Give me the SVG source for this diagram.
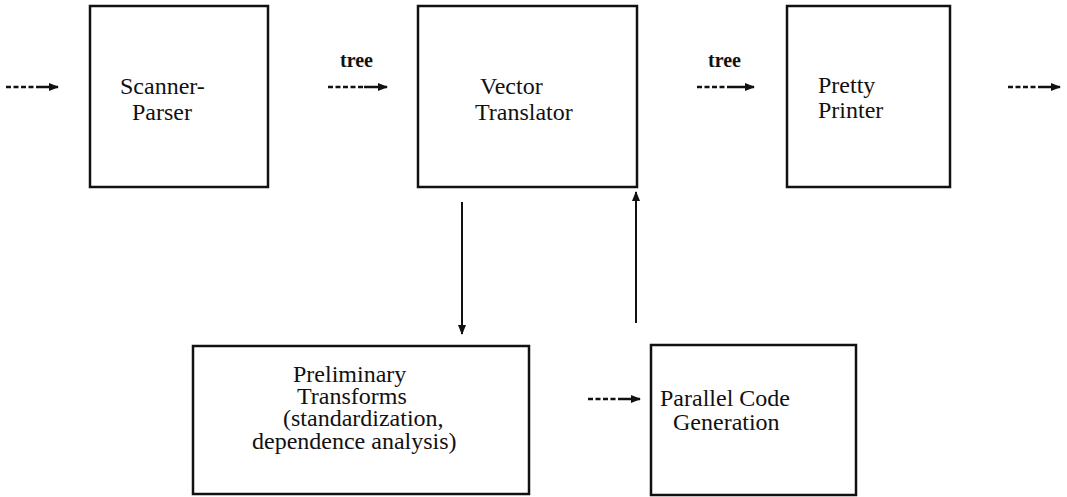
<svg xmlns="http://www.w3.org/2000/svg" width="1067" height="497" viewBox="0 0 1067 497">
  <style>
    .box { fill: #fff; stroke: #111; stroke-width: 2.5; }
    .lbl { font-family: "Liberation Serif", "DejaVu Serif", serif; font-size: 24px; fill: #111; }
    .tag { font-family: "Liberation Serif", "DejaVu Serif", serif; font-size: 20px; font-weight: bold; fill: #111; }
    .dash { stroke: #111; stroke-width: 2.5; stroke-dasharray: 5 2.5; fill: none; }
    .solid { stroke: #111; stroke-width: 2.5; fill: none; }
    .vert { stroke: #111; stroke-width: 2; fill: none; }
  </style>
  <defs>
    <marker id="head" markerUnits="userSpaceOnUse" markerWidth="10" markerHeight="8" refX="9" refY="4" orient="auto">
      <path d="M0,0 L10,4 L0,8 Z" fill="#111"/>
    </marker>
  </defs>

  <!-- connectors: dashed stream arrows and the vertical data-flow arrows -->
  <g id="connectors">
    <!-- input into scanner-parser -->
    <line class="dash" x1="6" y1="87" x2="38" y2="87"/>
    <line class="solid" x1="38" y1="87" x2="58" y2="87" marker-end="url(#head)"/>
    <!-- scanner-parser to vector translator -->
    <text class="tag" x="340" y="67">tree</text>
    <line class="dash" x1="328" y1="87" x2="364" y2="87"/>
    <line class="solid" x1="364" y1="87" x2="387" y2="87" marker-end="url(#head)"/>
    <!-- vector translator to pretty printer -->
    <text class="tag" x="708" y="67">tree</text>
    <line class="dash" x1="697" y1="87" x2="732" y2="87"/>
    <line class="solid" x1="732" y1="87" x2="754" y2="87" marker-end="url(#head)"/>
    <!-- output of pretty printer -->
    <line class="dash" x1="1008" y1="87" x2="1040" y2="87"/>
    <line class="solid" x1="1040" y1="87" x2="1060" y2="87" marker-end="url(#head)"/>
    <!-- vector translator down to preliminary transforms -->
    <line class="vert" x1="462" y1="202" x2="462" y2="334" marker-end="url(#head)"/>
    <!-- parallel code generation back up to vector translator -->
    <line class="vert" x1="636" y1="323" x2="636" y2="192" marker-end="url(#head)"/>
    <!-- into parallel code generation -->
    <line class="dash" x1="588" y1="399" x2="620" y2="399"/>
    <line class="solid" x1="620" y1="399" x2="640" y2="399" marker-end="url(#head)"/>
  </g>

  <g id="scanner-parser">
    <rect class="box" x="90" y="6" width="178" height="181"/>
    <text class="lbl" x="120" y="94">Scanner-</text>
    <text class="lbl" x="132" y="120">Parser</text>
  </g>

  <g id="vector-translator">
    <rect class="box" x="418" y="6" width="219" height="181"/>
    <text class="lbl" x="480" y="94">Vector</text>
    <text class="lbl" x="475" y="120">Translator</text>
  </g>

  <g id="pretty-printer">
    <rect class="box" x="787" y="6" width="163" height="181"/>
    <text class="lbl" x="818" y="93">Pretty</text>
    <text class="lbl" x="818" y="118">Printer</text>
  </g>

  <g id="preliminary-transforms">
    <rect class="box" x="193" y="346" width="336" height="148"/>
    <text class="lbl" x="293" y="382">Preliminary</text>
    <text class="lbl" x="297" y="404">Transforms</text>
    <text class="lbl" x="283" y="426">(standardization,</text>
    <text class="lbl" x="252" y="449">dependence analysis)</text>
  </g>

  <g id="parallel-code-generation">
    <rect class="box" x="651" y="345" width="205" height="150"/>
    <text class="lbl" x="660" y="406">Parallel Code</text>
    <text class="lbl" x="673" y="430">Generation</text>
  </g>
</svg>
